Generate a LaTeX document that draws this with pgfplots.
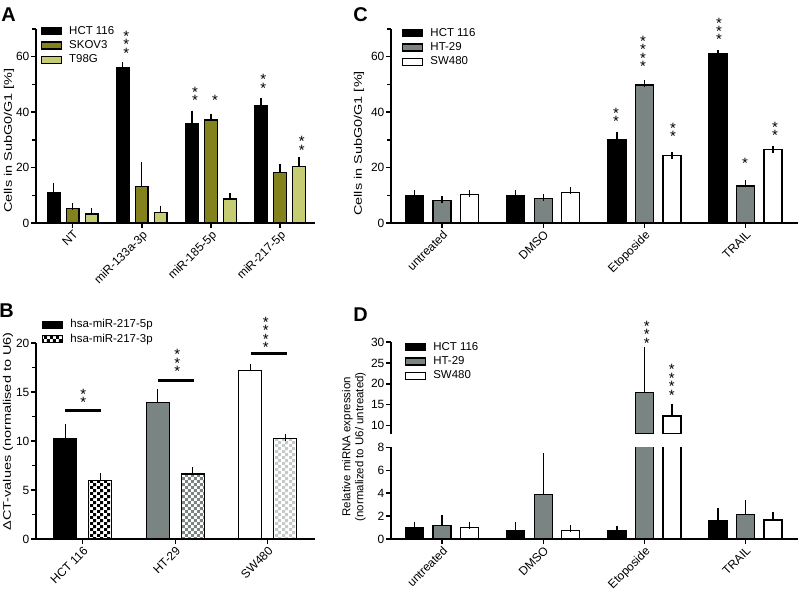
\documentclass[border=0pt]{standalone}
\usepackage{graphicx}
\usepackage{pgfplots}
\pgfplotsset{compat=1.18}
\usepackage{fontspec}
\setmainfont{Liberation Sans}
\usetikzlibrary{patterns}
\pgfdeclarepatternformonly{checker}{\pgfpointorigin}{\pgfqpoint{6.4bp}{6.4bp}}{\pgfqpoint{6.4bp}{6.4bp}}{%
  \pgfpathrectangle{\pgfpointorigin}{\pgfqpoint{3.2bp}{3.2bp}}%
  \pgfpathrectangle{\pgfqpoint{3.2bp}{3.2bp}}{\pgfqpoint{3.2bp}{3.2bp}}%
  \pgfusepath{fill}}
\definecolor{skov}{HTML}{84821C}
\definecolor{t98}{HTML}{C6CC72}
\definecolor{htgray}{HTML}{7A8482}
\definecolor{swchk}{HTML}{C4CACA}
\newcommand{\starfont}{\fontsize{15}{8.4}\selectfont\lineskiplimit=-100pt\relax\lineskip=0pt\relax}
\tikzset{stars/.style={align=center, font=\starfont, inner sep=0pt, anchor=center, yshift=-1.5bp}}
\pgfplotsset{
  panel/.style={
    scale only axis, axis lines=left, axis line style={-, line width=1.8bp},
    tick style={line width=1.4bp, black}, major tick length=5bp, minor tick length=4bp,
    tick align=outside, enlargelimits=false, ybar, clip mode=individual,
    /pgf/number format/assume math mode=true,
    tick label style={font=\fontsize{12}{13}\selectfont},
    xticklabel style={rotate=45, anchor=north east, inner sep=1bp},
    yticklabel style={inner sep=1.5bp},
    ylabel style={font=\fontsize{11}{13}\selectfont, anchor=center},
    legend cell align=left,
    legend style={draw=none, fill=none, font=\fontsize{11.5}{12}\selectfont, inner sep=0pt,
      nodes={inner sep=1bp, text height=8bp, text depth=2bp}, row sep=2.3bp, anchor=north west},
    legend image code/.code={\draw[#1, line width=1.3bp] (0bp,-3.5bp) rectangle (20bp,3.5bp); \path (26bp,0bp);},
    every axis plot/.append style={line width=1.3bp, draw=black},
    error bars/y dir=plus, error bars/y explicit,
    error bars/error bar style={line width=1.3bp, black},
    error bars/error mark options={mark size=3.5bp, line width=1.3bp, black},
  },
}
\begin{document}
\begin{tikzpicture}
\useasboundingbox (0,0) rectangle (798bp,594bp);
% ---------------- A
\begin{axis}[panel, at={(36bp,371bp)}, anchor=south west, width=279bp, height=194bp,
  xmin=-0.531, xmax=3.506, ymin=0, ymax=70, ytick={0,20,40,60}, minor ytick={10,30,50,70},
  xtick={0,1,2,3}, xticklabels={NT,miR-133a-3p,miR-185-5p,miR-217-5p}, bar width=12.5bp,
  ylabel={\scalebox{1.32}[1]{Cells in SubG0/G1 [\%]}},
  ylabel style={at={(axis description cs:-0.097,0.425)}},
  legend style={at={(axis description cs:0.017,1.02)}}]
\addplot[fill=black, bar shift=-19bp] coordinates {(0,10.9) +- (0,2.4) (1,56.0) +- (0,0.7) (2,35.8) +- (0,3.5) (3,42.4) +- (0,1.4)};
\addplot[fill=skov, bar shift=0bp] coordinates {(0,5.2) +- (0,0.8) (1,13.2) +- (0,7.6) (2,37.2) +- (0,0.8) (3,18.3) +- (0,1.9)};
\addplot[fill=t98, bar shift=19bp] coordinates {(0,3.2) +- (0,1.0) (1,3.7) +- (0,1.3) (2,8.7) +- (0,0.8) (3,20.4) +- (0,2.0)};
\legend{HCT 116, SKOV3, T98G}
\node[stars] at (axis cs:0.776,64.9) {*\\*\\*};
\node[stars] at (axis cs:1.77,46.2) {*\\*};
\node[stars] at (axis cs:2.059,44.7) {*};
\node[stars] at (axis cs:2.758,50.7) {*\\*};
\node[stars] at (axis cs:3.314,28.4) {*\\*};
\end{axis}
% ---------------- C
\begin{axis}[panel, at={(391bp,371bp)}, anchor=south west, width=407bp, height=194bp,
  xmin=-0.504, xmax=3.518, ymin=0, ymax=70, ytick={0,20,40,60}, minor ytick={10,30,50,70},
  xtick={0,1,2,3}, xticklabels={untreated,DMSO,Etoposide,TRAIL}, bar width=18bp,
  ylabel={\scalebox{1.32}[1]{Cells in SubG0/G1 [\%]}},
  ylabel style={at={(axis description cs:-0.0786,0.41)}},
  legend style={at={(axis description cs:0.027,1.01)}}]
\addplot[fill=black, bar shift=-27.5bp] coordinates {(0,9.9) +- (0,0.8) (1,9.9) +- (0,0.8) (2,30.1) +- (0,1.3) (3,61.0) +- (0,0)};
\addplot[fill=htgray, bar shift=0bp] coordinates {(0,8.1) +- (0,0.3) (1,8.9) +- (0,0.4) (2,49.8) +- (0,0.6) (3,13.3) +- (0,1.0)};
\addplot[fill=white, bar shift=27.5bp] coordinates {(0,10.2) +- (0,0.5) (1,10.9) +- (0,1.0) (2,24.4) +- (0,0) (3,26.6) +- (0,0)};
\legend{HCT 116, HT-29, SW480}
\node[stars] at (axis cs:1.719,38.6) {*\\*};
\node[stars] at (axis cs:1.986,61.6) {*\\*\\*\\*};
\node[stars] at (axis cs:2.283,33.2) {*\\*};
\node[stars] at (axis cs:2.737,69.7) {*\\*\\*};
\node[stars] at (axis cs:2.994,22.0) {*};
\node[stars] at (axis cs:3.29,33.6) {*\\*};
\end{axis}
% ---------------- B
\begin{axis}[panel, at={(36bp,55bp)}, anchor=south west, width=279bp, height=196bp,
  xmin=-0.505, xmax=2.511, ymin=0, ymax=20, ytick={0,5,10,15,20}, minor ytick={2.5,7.5,12.5,17.5},
  xtick={0,1,2}, xticklabels={HCT 116,HT-29,SW480}, bar width=23bp,
  ylabel={\scalebox{1.32}[1]{ΔCT-values (normalised to U6)}},
  ylabel style={at={(axis description cs:-0.1,0.549)}},
  legend style={at={(axis description cs:0.0215,1.124)}}]
\addplot[fill=black, bar shift=-17.5bp] coordinates {(0,10.2) +- (0,1.2)};
\addplot[pattern=checker, pattern color=black, bar shift=17.5bp] coordinates {(0,6.0) +- (0,0.33)};
\addplot[fill=htgray, bar shift=-17.5bp, forget plot] coordinates {(1,13.95) +- (0,1.0)};
\addplot[pattern=checker, pattern color=htgray, bar shift=17.5bp, forget plot] coordinates {(1,6.63) +- (0,0.34)};
\addplot[fill=white, bar shift=-17.5bp, forget plot] coordinates {(2,17.2) +- (0,0.35)};
\addplot[pattern=checker, pattern color=swchk, bar shift=17.5bp, forget plot] coordinates {(2,10.24) +- (0,0.12)};
\legend{hsa-miR-217-5p, hsa-miR-217-3p}
\draw[line width=3bp] (axis cs:-0.19,13.1) -- (axis cs:0.195,13.1);
\draw[line width=3bp] (axis cs:0.813,16.2) -- (axis cs:1.205,16.2);
\draw[line width=3bp] (axis cs:1.819,18.9) -- (axis cs:2.208,18.9);
\node[stars] at (axis cs:0.006,14.5) {*\\*};
\node[stars] at (axis cs:1.022,18.1) {*\\*\\*};
\node[stars] at (axis cs:1.978,21.0) {*\\*\\*\\*};
\end{axis}
% ---------------- D bottom
\begin{axis}[panel, at={(391bp,55bp)}, anchor=south west, width=407bp, height=91.7bp,
  xmin=-0.504, xmax=3.518, ymin=0, ymax=8, ytick={0,2,4,6,8},
  xtick={0,1,2,3}, xticklabels={untreated,DMSO,Etoposide,TRAIL}, bar width=18bp,
  ylabel={Relative miRNA expression\\(normalized to U6/ untreated)},
  ylabel style={align=center, font=\fontsize{11.5}{13}\selectfont, at={(axis description cs:-0.091,1.006)}}]
\addplot[fill=black, bar shift=-27.5bp] coordinates {(0,1.01) +- (0,0.15) (1,0.75) +- (0,0.46) (2,0.72) +- (0,0.15) (3,1.57) +- (0,0.8)};
\addplot[fill=htgray, bar shift=0bp] coordinates {(0,1.16) +- (0,0.64) (1,3.9) +- (0,3.3) (2,17.9) +- (0,10.0) (3,2.15) +- (0,0.95)};
\addplot[fill=white, bar shift=27.5bp] coordinates {(0,0.98) +- (0,0.18) (1,0.72) +- (0,0.2) (2,12.3) +- (0,2.1) (3,1.65) +- (0,0.41)};
\end{axis}
% ---------------- D top
\begin{axis}[panel, at={(391bp,160bp)}, anchor=south west, width=407bp, height=92bp,
  axis x line=none,
  xmin=-0.504, xmax=3.518, ymin=8, ymax=30, ytick={10,15,20,25,30}, bar width=18bp,
  legend style={at={(axis description cs:0.034,1.01)}}]
\addlegendimage{fill=black, draw=black}
\addlegendimage{fill=htgray, draw=black}
\addlegendimage{fill=white, draw=black}
\addplot[fill=htgray, bar shift=0bp, forget plot] coordinates {(2,17.9) +- (0,10.0)};
\addplot[fill=white, bar shift=27.5bp, forget plot] coordinates {(2,12.3) +- (0,2.1)};
\legend{HCT 116, HT-29, SW480}
\node[stars] at (axis cs:2.023,32.1) {*\\*\\*};
\node[stars] at (axis cs:2.27,20.7) {*\\*\\*\\*};
\end{axis}
% panel letters
\node[font=\fontsize{20}{20}\selectfont\bfseries] at (8.5bp,579.5bp) {A};
\node[font=\fontsize{20}{20}\selectfont\bfseries] at (360.5bp,579.5bp) {C};
\node[font=\fontsize{20}{20}\selectfont\bfseries] at (6.5bp,283.5bp) {B};
\node[font=\fontsize{20}{20}\selectfont\bfseries] at (360.5bp,279.5bp) {D};
\end{tikzpicture}
\end{document}
